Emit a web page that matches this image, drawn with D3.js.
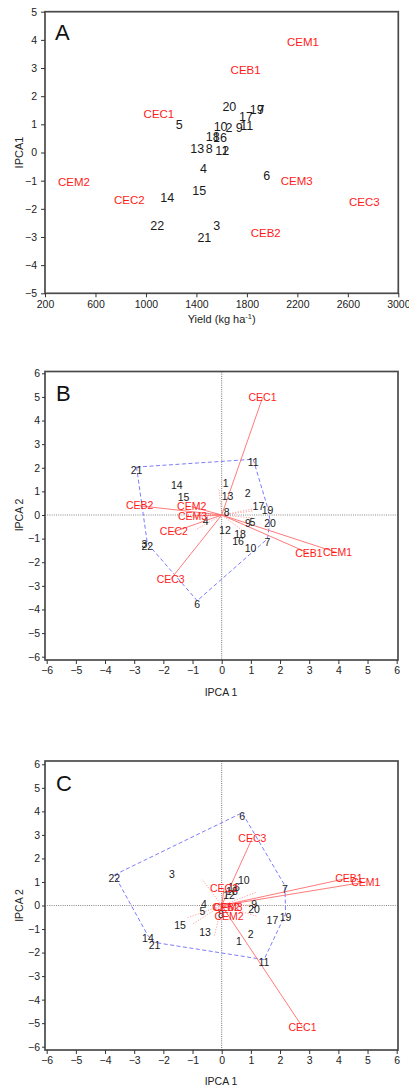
<!DOCTYPE html>
<html><head><meta charset="utf-8">
<script src="https://cdn.jsdelivr.net/npm/d3@7"></script>
<style>
body{margin:0;background:#fff}
text{font-family:"Liberation Sans",Arial,sans-serif}
</style>
</head><body>
<svg id="chart" width="409" height="1088"></svg>
<script>
// ---------- Panel A : yield vs IPCA1 ----------
const genotypes = ["1","2","3","4","5","6","7","8","9","10","11","12","13","14","15","16","17","18","19","20","21","22"];
const genYieldA = [1626,1658,1561,1455,1264,1957,1912,1502,1740,1592,1799,1605,1407,1169,1423,1587,1793,1529,1878,1661,1463,1090];
const genIpca1A = [0.07,0.87,-2.61,-0.59,1.00,-0.83,1.52,0.14,0.87,0.93,0.94,0.08,0.14,-1.60,-1.34,0.53,1.26,0.58,1.52,1.64,-3.01,-2.59];
const environments = ["CEM1","CEB1","CEC1","CEM2","CEC2","CEM3","CEC3","CEB2"];
const envYieldA = [2245,1790,1103,430,868,2195,2731,1949];
const envIpca1A = [3.92,2.94,1.36,-1.04,-1.67,-1.00,-1.75,-2.85];
const yieldTicks = [200,600,1000,1400,1800,2200,2600,3000];
const ipcaTicksA = [-5,-4,-3,-2,-1,0,1,2,3,4,5];

// ---------- Panel B : IPCA1 vs IPCA2 ----------
const genIpca1B = [0.14,0.89,-2.65,-0.55,1.05,-0.84,1.57,0.17,0.90,0.99,1.08,0.11,0.20,-1.54,-1.31,0.56,1.26,0.63,1.57,1.66,-2.92,-2.55];
const genIpca2B = [1.46,1.04,-1.10,-0.12,-0.19,-3.63,-1.01,0.26,-0.23,-1.29,2.36,-0.52,0.94,1.39,0.87,-0.97,0.50,-0.70,0.33,-0.23,2.03,-1.20];
const envIpca1B = [3.97,2.99,1.40,-1.03,-1.64,-1.00,-1.75,-2.81];
const envIpca2B = [-1.60,-1.62,4.97,0.35,-0.71,-0.04,-2.72,0.39];
const hullB = ["21","11","19","20","7","6","22"];

// ---------- Panel C : IPCA1 vs IPCA2 ----------
const genIpca1C = [0.59,0.99,-1.71,-0.61,-0.66,0.70,2.17,-0.03,1.11,0.76,1.45,0.25,-0.57,-2.53,-1.43,0.42,1.74,0.35,2.19,1.11,-2.30,-3.68];
const genIpca2C = [-1.38,-1.07,1.45,0.17,-0.11,3.94,0.84,-0.22,0.17,1.20,-2.30,0.57,-1.00,-1.28,-0.72,0.90,-0.50,0.74,-0.36,-0.04,-1.57,1.30];
const envIpca1C = [4.94,4.36,2.77,0.25,0.08,0.22,1.05,0.15];
const envIpca2C = [1.00,1.17,-5.16,-0.45,0.72,-0.08,2.87,-0.06];
const hullC = ["22","6","7","19","11","21","14"];

const biplotTicks = [-6,-5,-4,-3,-2,-1,0,1,2,3,4,5,6];

const svg = d3.select("#chart");
const RED = "#ff1a1a", LINE_RED = "#ff6b6b", BLUE = "#6d6dff", INK = "#1a1a1a", FRAME = "#4a4a4a";

function styleAxis(g, fs){
  g.select(".domain").remove();
  g.selectAll(".tick line").attr("stroke", "#333").attr("stroke-width", 1);
  g.selectAll(".tick text").attr("fill", "#222").style("font-size", fs + "px")
    .style("font-family", '"Liberation Sans",Arial,sans-serif');
}

function frame(x0, x1, y0, y1){
  svg.append("rect").attr("x", x0).attr("y", y0).attr("width", x1 - x0).attr("height", y1 - y0)
    .attr("fill", "none").attr("stroke", FRAME).attr("stroke-width", 1.7);
}

// ===== Panel A =====
(function(){
  const box = {l:45, r:398.3, t:11.7, b:293.3};
  const x = d3.scaleLinear().domain([200,3000]).range([box.l, box.r]);
  const y = d3.scaleLinear().domain([-5,5]).range([box.b, box.t]);
  frame(box.l, box.r, box.t, box.b);
  const gx = svg.append("g").attr("transform", `translate(0,${box.b})`)
    .call(d3.axisBottom(x).tickValues(yieldTicks).tickSize(4).tickPadding(3).tickFormat(d3.format("d")));
  styleAxis(gx, 10.5);
  const gy = svg.append("g").attr("transform", `translate(${box.l},0)`)
    .call(d3.axisLeft(y).tickValues(ipcaTicksA).tickSize(4).tickPadding(4));
  styleAxis(gy, 10.5);

  svg.append("text").attr("x", 55).attr("y", 40).text("A").style("font-size", "22px").attr("fill", "#111");

  const xl = svg.append("text").attr("x", (box.l + box.r) / 2).attr("y", 323).attr("text-anchor", "middle")
    .style("font-size", "11px").attr("fill", "#222");
  xl.append("tspan").text("Yield (kg ha");
  xl.append("tspan").text("-1").attr("dy", -4).style("font-size", "7.5px");
  xl.append("tspan").text(")").attr("dy", 4);
  svg.append("text").attr("transform", `translate(23,${(box.t + box.b) / 2}) rotate(-90)`)
    .attr("text-anchor", "middle").style("font-size", "11px").attr("fill", "#222").text("IPCA1");

  svg.append("g").selectAll("text").data(genotypes).join("text")
    .attr("x", (d,i) => x(genYieldA[i])).attr("y", (d,i) => y(genIpca1A[i]))
    .attr("dy", "0.35em").attr("text-anchor", "middle").style("font-size", "12.5px").attr("fill", INK).text(d => d);
  svg.append("g").selectAll("text").data(environments).join("text")
    .attr("x", (d,i) => x(envYieldA[i])).attr("y", (d,i) => y(envIpca1A[i]))
    .attr("dy", "0.35em").attr("text-anchor", "middle").style("font-size", "11.5px").attr("fill", RED).text(d => d);
})();

// ===== Biplot panels B and C =====
function biplot(opt){
  const {box, yTop, yBot, letter, letterY, gx1, gx2, ex1, ex2, hull, rayLen, xLabY} = opt;
  const x = d3.scaleLinear().domain([-6,6]).range([46.7, 396.7]);
  const y = d3.scaleLinear().domain([-6,6]).range([yBot, yTop]);
  frame(box.l, box.r, box.t, box.b);

  const gx = svg.append("g").attr("transform", `translate(0,${box.b})`)
    .call(d3.axisBottom(x).tickValues(biplotTicks).tickSize(4).tickPadding(3));
  styleAxis(gx, 10.5);
  const gy = svg.append("g").attr("transform", `translate(${box.l},0)`)
    .call(d3.axisLeft(y).tickValues(biplotTicks).tickSize(3).tickPadding(2));
  styleAxis(gy, 10.5);

  // zero reference lines
  svg.append("line").attr("x1", x(0)).attr("x2", x(0)).attr("y1", box.t).attr("y2", box.b)
    .attr("stroke", "#333").attr("stroke-width", 0.7).attr("stroke-dasharray", "1,1.2");
  svg.append("line").attr("x1", box.l).attr("x2", box.r).attr("y1", y(0)).attr("y2", y(0))
    .attr("stroke", "#555").attr("stroke-width", 0.7).attr("stroke-dasharray", "1,1.2");

  svg.append("text").attr("x", 56).attr("y", letterY).text(letter).style("font-size", "22px").attr("fill", "#111");
  svg.append("text").attr("x", 221).attr("y", xLabY).attr("text-anchor", "middle")
    .style("font-size", "10.5px").attr("fill", "#222").text("IPCA 1");
  svg.append("text").attr("transform", `translate(23,${y(0)}) rotate(-90)`)
    .attr("text-anchor", "middle").style("font-size", "10.5px").attr("fill", "#222").text("IPCA 2");

  const pt = g => { const i = genotypes.indexOf(g); return [gx1[i], gx2[i]]; };

  // perpendicular rays from origin to each hull side
  const hp = hull.map(pt);
  const rays = hp.map((p, k) => {
    const q = hp[(k + 1) % hp.length];
    const dx = q[0] - p[0], dy = q[1] - p[1];
    const t = -(p[0] * dx + p[1] * dy) / (dx * dx + dy * dy);
    const fx = p[0] + t * dx, fy = p[1] + t * dy, n = Math.hypot(fx, fy);
    return [fx / n * rayLen, fy / n * rayLen];
  });
  svg.append("g").selectAll("line").data(rays).join("line")
    .attr("x1", x(0)).attr("y1", y(0)).attr("x2", d => x(d[0])).attr("y2", d => y(d[1]))
    .attr("stroke", "#ff8a8a").attr("stroke-width", 0.8).attr("stroke-dasharray", "1.2,1.5");

  // polygon
  svg.append("path").attr("d", d3.line().x(d => x(d[0])).y(d => y(d[1]))(hp.concat([hp[0]])))
    .attr("fill", "none").attr("stroke", BLUE).attr("stroke-width", 0.9).attr("stroke-dasharray", "4,2.5");

  // environment vectors
  svg.append("g").selectAll("line").data(environments).join("line")
    .attr("x1", x(0)).attr("y1", y(0)).attr("x2", (d,i) => x(ex1[i])).attr("y2", (d,i) => y(ex2[i]))
    .attr("stroke", LINE_RED).attr("stroke-width", 0.9);

  svg.append("g").selectAll("text").data(genotypes).join("text")
    .attr("x", (d,i) => x(gx1[i])).attr("y", (d,i) => y(gx2[i]))
    .attr("dy", "0.65em").attr("text-anchor", "middle").style("font-size", "10.5px").attr("fill", INK).text(d => d);
  svg.append("g").selectAll("text").data(environments).join("text")
    .attr("x", (d,i) => x(ex1[i])).attr("y", (d,i) => y(ex2[i]))
    .attr("dy", "0.35em").attr("text-anchor", "middle").style("font-size", "10.5px").attr("fill", RED).text(d => d);
}

biplot({box:{l:45, r:398, t:371.5, b:660}, yTop:373.3, yBot:656.7, letter:"B", letterY:400.5,
  gx1:genIpca1B, gx2:genIpca2B, ex1:envIpca1B, ex2:envIpca2B, hull:hullB, rayLen:1.1, xLabY:696});
biplot({box:{l:45, r:398, t:761, b:1050}, yTop:764.3, yBot:1046.7, letter:"C", letterY:790.5,
  gx1:genIpca1C, gx2:genIpca2C, ex1:envIpca1C, ex2:envIpca2C, hull:hullC, rayLen:1.3, xLabY:1085});
</script>
</body></html>
